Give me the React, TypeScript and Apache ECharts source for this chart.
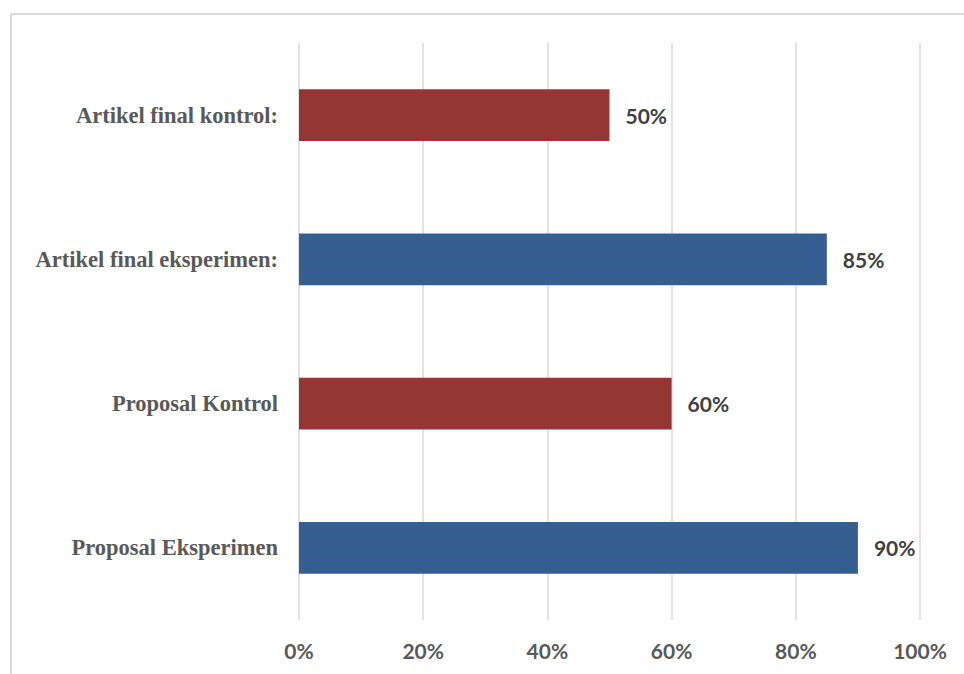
import React, { useEffect, useRef } from "react";
import * as echarts from "echarts";

const categories = [
  "Proposal Eksperimen",
  "Proposal Kontrol",
  "Artikel final eksperimen:",
  "Artikel final kontrol:",
];
const values = [90, 60, 85, 50];
const barColors = ["#365F91", "#943634", "#365F91", "#943634"];
const xTicks = { min: 0, max: 100, interval: 20 };

export default function App() {
  const ref = useRef<HTMLDivElement>(null);
  useEffect(() => {
    if (!ref.current) return;
    const chart = echarts.init(ref.current, null, { renderer: "svg" });
    chart.setOption({
      animation: false,
      backgroundColor: "#ffffff",
      graphic: [
        {
          type: "rect",
          shape: { x: 11, y: 14, width: 962, height: 672 },
          style: { fill: "none", stroke: "#d9d9d9", lineWidth: 2 },
          silent: true,
        },
      ],
      grid: { left: 299, right: 44, top: 43, bottom: 54 },
      xAxis: {
        type: "value",
        min: xTicks.min,
        max: xTicks.max,
        interval: xTicks.interval,
        axisLine: { show: false },
        axisTick: { show: false },
        splitLine: { lineStyle: { color: "#d9d9d9", width: 1.5 } },
        axisLabel: {
          formatter: "{value}%",
          color: "#595959",
          fontFamily: "Lato",
          fontWeight: "bold",
          fontSize: 21,
          margin: 20,
        },
      },
      yAxis: {
        type: "category",
        data: categories,
        axisLine: { show: false },
        axisTick: { show: false },
        axisLabel: {
          color: "#595959",
          fontFamily: "Liberation Serif",
          fontWeight: "bold",
          fontSize: 22.5,
          margin: 21,
        },
      },
      series: [
        {
          type: "bar",
          data: values.map((v, i) => ({ value: v, itemStyle: { color: barColors[i] } })),
          barWidth: "36%",
          label: {
            show: true,
            position: "right",
            distance: 16,
            formatter: "{c}%",
            color: "#404040",
            fontFamily: "Lato",
            fontWeight: "bold",
            fontSize: 21,
          },
        },
      ],
    });
    return () => chart.dispose();
  }, []);
  return (
    <div
      ref={ref}
      style={{ position: "fixed", left: 0, top: 0, width: 964, height: 674 }}
    />
  );
}
